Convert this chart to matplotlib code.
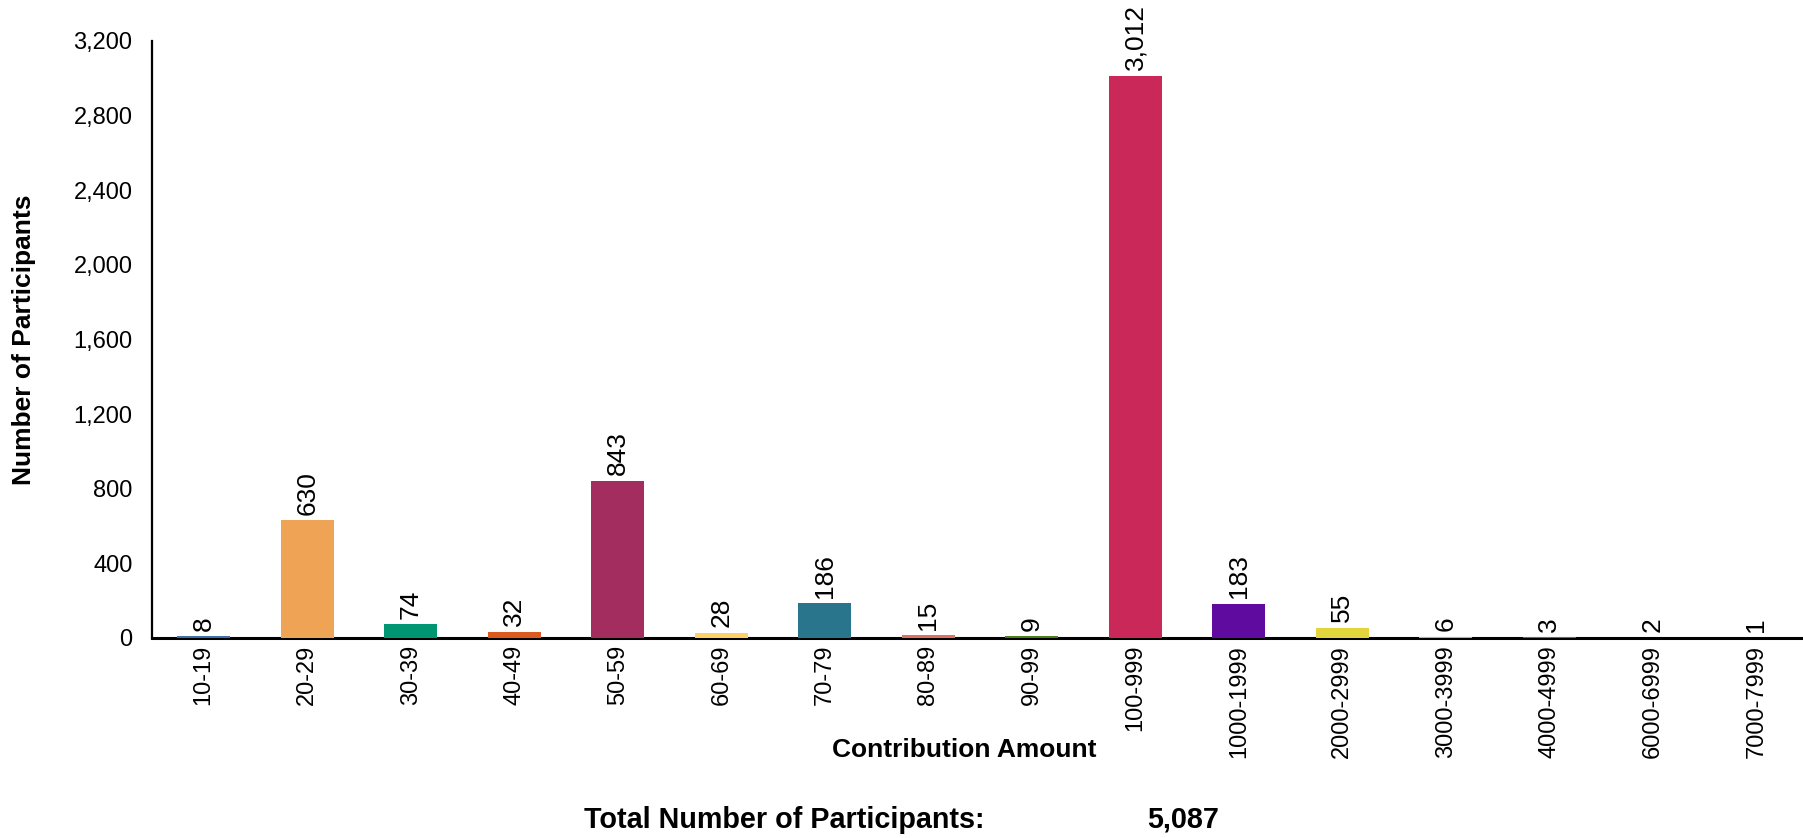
import matplotlib
matplotlib.use("Agg")
import matplotlib.pyplot as plt
from matplotlib.ticker import FuncFormatter, MultipleLocator

plt.rcParams['font.family'] = ['Liberation Sans', 'DejaVu Sans']

categories = ["10-19", "20-29", "30-39", "40-49", "50-59", "60-69", "70-79",
              "80-89", "90-99", "100-999", "1000-1999", "2000-2999",
              "3000-3999", "4000-4999", "6000-6999", "7000-7999"]
participants = [8, 630, 74, 32, 843, 28, 186, 15, 9, 3012, 183, 55, 6, 3, 2, 1]
bar_colors = ["#3F6FA8", "#EFA354", "#009672", "#DD5A1F", "#A22D5E", "#FDD166",
              "#28758C", "#DC7362", "#4D7F17", "#C92858", "#5F0BA0", "#E3D63C",
              "#D99BC6", "#2F78D0", "#EAB060", "#444444"]
total_participants = 5087

fig = plt.figure(figsize=(18.03, 8.38), dpi=100)
ax = fig.add_axes([0.0843, 0.2387, 0.9157, 0.7124])

x = range(len(categories))
bars = ax.bar(x, participants, width=0.51, color=bar_colors, zorder=3)

for rect, val in zip(bars, participants):
    ax.annotate(f"{val:,}", (rect.get_x() + rect.get_width() / 2, rect.get_height()),
                xytext=(0, 4), textcoords="offset points", rotation=90,
                ha="center", va="bottom", fontsize=19)

ax.set_xlim(-0.5, 15.45)
ax.set_ylim(0, 3200)
ax.yaxis.set_major_locator(MultipleLocator(400))
ax.yaxis.set_major_formatter(FuncFormatter(lambda v, p: f"{int(v):,}"))
ax.set_xticks(list(x))
ax.set_xticklabels(categories, rotation=90, fontsize=17)
ax.tick_params(axis="both", length=0, labelsize=17)
ax.tick_params(axis="x", pad=5)
ax.tick_params(axis="y", pad=14)

for side in ("top", "right"):
    ax.spines[side].set_visible(False)
ax.spines["left"].set_linewidth(1.6)
ax.spines["bottom"].set_linewidth(2.2)
ax.spines["left"].set_color("black")
ax.spines["bottom"].set_color("black")

fig.text(0.0135, 0.595, "Number of Participants", rotation=90, ha="center",
         va="center", fontsize=19, fontweight="bold")
fig.text(0.535, 0.105, "Contribution Amount", ha="center", va="center",
         fontsize=19, fontweight="bold")
fig.text(0.324, 0.0215, "Total Number of Participants:", ha="left", va="center",
         fontsize=20.7, fontweight="bold")
fig.text(0.656, 0.0215, f"{total_participants:,}", ha="center", va="center",
         fontsize=20.7, fontweight="bold")

fig.savefig("out.png", dpi=100)
